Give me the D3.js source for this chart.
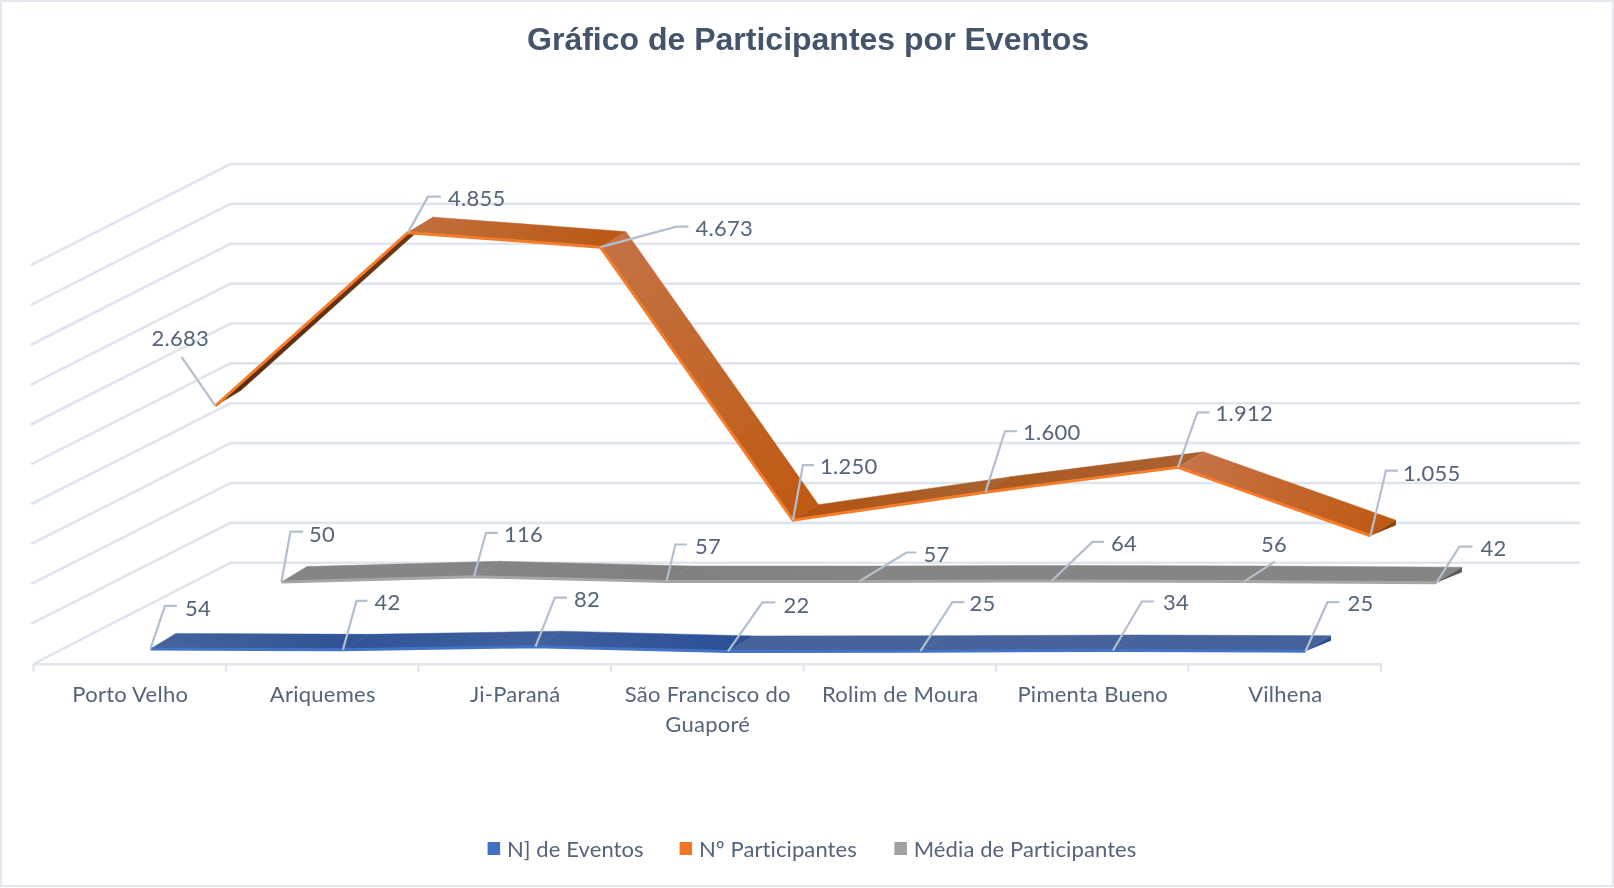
<!DOCTYPE html>
<html lang="pt">
<head>
<meta charset="utf-8">
<title>Gráfico de Participantes por Eventos</title>
<script src="https://cdn.jsdelivr.net/npm/d3@7"></script>
<style>
html,body{margin:0;padding:0;background:#fff;overflow:hidden}
svg{display:block;filter:blur(.5px)}
text{font-family:Lato,"Open Sans",sans-serif;fill:#54647b}
</style>
</head>
<body>
<svg id="chart" width="1614" height="888"></svg>
<script>
const categories = ["Porto Velho","Ariquemes","Ji-Paraná","São Francisco do Guaporé","Rolim de Moura","Pimenta Bueno","Vilhena"];
const eventos = [54,42,82,22,25,34,25];
const participantes = [2683,4855,4673,1250,1600,1912,1055];
const media = [50,116,57,57,64,56,42];
const valueTicks = [0,500,1000,1500,2000,2500,3000,3500,4000,4500,5000];
const title = "Gráfico de Participantes por Eventos";
const legendNames = ["N] de Eventos","Nº Participantes","Média de Participantes"];

// layout
const depthVec = {x:197, y:-101};
const ribbonVec = {x:25.5, y:-15.5};
const fmt = v => d3.format(",")(v).replace(/,/g,".");
const x = d3.scaleBand().domain(categories).range([33.5,1381]);
const y = d3.scaleLinear().domain([0,5000]).range([663.8,265]);
const project = (cat,val,d) => [x(cat)+x.bandwidth()/2+depthVec.x*d, y(val)+depthVec.y*d];

// leader layouts relative to each data point: elbow dx/dy, tail length, text dx/dy from tail
const leadersBlue = [[14.5,-43,12,8,2],[13.5,-49,11,7,1],[19.5,-49,12,7,2],[34.5,-49,13,8,2.5],[32,-49,12,5,1],[29,-49,12,9,1],[22,-49,12,8,1]];
const leadersOrange = [[-34,-49,0,-30,-19],[20,-36,13,7,2],[76,-20.5,12,7,1.5],[10,-55,11,6,1],[19.5,-61,12,6,1],[19.5,-55,12,6,1],[15.5,-65,12,5,3]];
const leadersGrey = [[9,-50.5,12.5,6,2.5],[12,-44,12,6,2],[9,-37,11.5,8,2],[47.5,-29,10,7,2],[41,-39,11.5,7,1],[31,-20,0,-14,-17],[23,-36,13,8,1.5]];

const series = [
  {name:legendNames[2], values:media, depth:.77, edge:"#a6a6a6", swatch:"#a0a0a0", cap:"#5a5a5a", leaders:leadersGrey,
   shades:[["#858585","#858585"],["#858585","#808080"],["#808080","#858585"],["#858585","#858585"],["#858585","#858585"],["#858585","#858585"]]},
  {name:legendNames[1], values:participantes, depth:.435, edge:"#f47c2a", swatch:"#f07628", cap:"#8a440f", leaders:leadersOrange,
   shades:[["#5a2c0c","#6b3613"],["#c0703f","#ba5a16"],["#c47244","#bf5a12"],["#b3520f","#a8622f"],["#ab5a1c","#aa6030"],["#c6744a","#bf5a14"]]},
  {name:legendNames[0], values:eventos, depth:.105, edge:"#4472c8", swatch:"#4170c4", cap:"#2c4f8c", leaders:leadersBlue,
   shades:[["#46639b","#2f5497"],["#2f5497","#40609c"],["#3f5f9c","#2c5197"],["#46639b","#46639b"],["#46639b","#46639b"],["#46639b","#44629b"]]}
];

const svg = d3.select("#chart");
svg.append("rect").attr("x",1).attr("y",1).attr("width",1612).attr("height",885)
  .attr("fill","#fff").attr("stroke","#e3e7ee").attr("stroke-width",2);

svg.append("text").attr("x",808).attr("y",50).attr("text-anchor","middle")
  .style("font-family","'Liberation Sans',Arial,sans-serif").style("font-weight","700")
  .style("font-size","32px").style("fill","#44546a").text(title);

// walls
const grid = svg.append("g").attr("fill","none").attr("stroke","#e0e5ed").attr("stroke-width",2.6);
valueTicks.forEach(v=>{
  const backY = y(v)+depthVec.y, backX = x.range()[0]+depthVec.x;
  const line = d3.line();
  grid.append("path").attr("d",line([[x.range()[0]-(v?2.5:0),y(v)],[backX,backY],[x.range()[1]+depthVec.x+2,backY]]));
});

// floor axis
const axis = d3.axisBottom(x).tickSize(0).tickPadding(0);
const axisG = svg.append("g").attr("transform",`translate(0,${y(0)})`).call(axis);
axisG.select(".domain").attr("stroke","#e0e5ed").attr("stroke-width",2.6);
axisG.selectAll("text").style("font-size","22px").style("letter-spacing",".25px").each(function(d){
  const t=d3.select(this).text(null).attr("y",null).attr("dy",null);
  const parts = d==="São Francisco do Guaporé" ? ["São Francisco do","Guaporé"] : [d];
  parts.forEach((p,i)=>t.append("tspan").attr("x",.5).attr("y",38+i*30).text(p));
});
const edges = categories.map(c=>x(c)).concat(x.range()[1]);
svg.append("g").selectAll("line").data(edges).join("line")
  .attr("x1",d=>d).attr("x2",d=>d).attr("y1",y(0)).attr("y2",y(0)+8)
  .attr("stroke","#e0e5ed").attr("stroke-width",2.2);

const defs = svg.append("defs");
series.forEach((s,si)=>{
  const g = svg.append("g");
  const pts = s.values.map((v,i)=>project(categories[i],v,s.depth));
  const back = pts.map(p=>[p[0]+ribbonVec.x,p[1]+ribbonVec.y]);
  d3.pairs(d3.range(pts.length)).forEach(([a,b],k)=>{
    const id=`g${si}-${k}`;
    const grad=defs.append("linearGradient").attr("id",id).attr("gradientUnits","userSpaceOnUse")
      .attr("x1",pts[a][0]).attr("y1",pts[a][1]).attr("x2",pts[b][0]).attr("y2",pts[b][1]);
    grad.append("stop").attr("offset",0).attr("stop-color",s.shades[k][0]);
    grad.append("stop").attr("offset",1).attr("stop-color",s.shades[k][1]);
    g.append("path").attr("d",d3.line()([pts[a],pts[b],back[b],back[a]])+"Z")
      .attr("fill",`url(#${id})`).attr("stroke",`url(#${id})`).attr("stroke-width",.5);
  });
  // end cap
  const n=pts.length-1;
  g.append("path").attr("d",d3.line()([pts[n],back[n],[back[n][0],back[n][1]+5]])+"Z").attr("fill",s.cap);
  // front edge
  g.append("path").attr("d",d3.line()(pts)).attr("fill","none").attr("stroke",s.edge).attr("stroke-width",3);
});

// data labels
series.forEach(s=>{
  const g=svg.append("g");
  s.values.forEach((v,i)=>{
    const p=project(categories[i],v,s.depth), [ex,ey,tail,tx,ty]=s.leaders[i];
    const a=[p[0]+ex,p[1]+ey], b=[a[0]+tail,a[1]];
    g.append("path").attr("d",d3.line()([p,a,b])).attr("fill","none").attr("stroke","#b3bfce").attr("stroke-width",2.2);
    g.append("text").attr("x",b[0]+tx).attr("y",b[1]+ty).attr("dy",".35em")
      .style("font-size","22px").style("letter-spacing",".3px").text(fmt(v));
  });
});

// legend
const legendX = [487.6,679.6,894.4], legendColors=[series[2].swatch,series[1].swatch,series[0].swatch];
const lg = svg.append("g");
legendNames.forEach((n,i)=>{
  lg.append("rect").attr("x",legendX[i]).attr("y",842).attr("width",12.5).attr("height",13).attr("fill",legendColors[i]);
  lg.append("text").attr("x",legendX[i]+19.3).attr("y",849).attr("dy",".35em").style("font-size","22px").style("letter-spacing",".1px").text(n);
});
</script>
</body>
</html>
